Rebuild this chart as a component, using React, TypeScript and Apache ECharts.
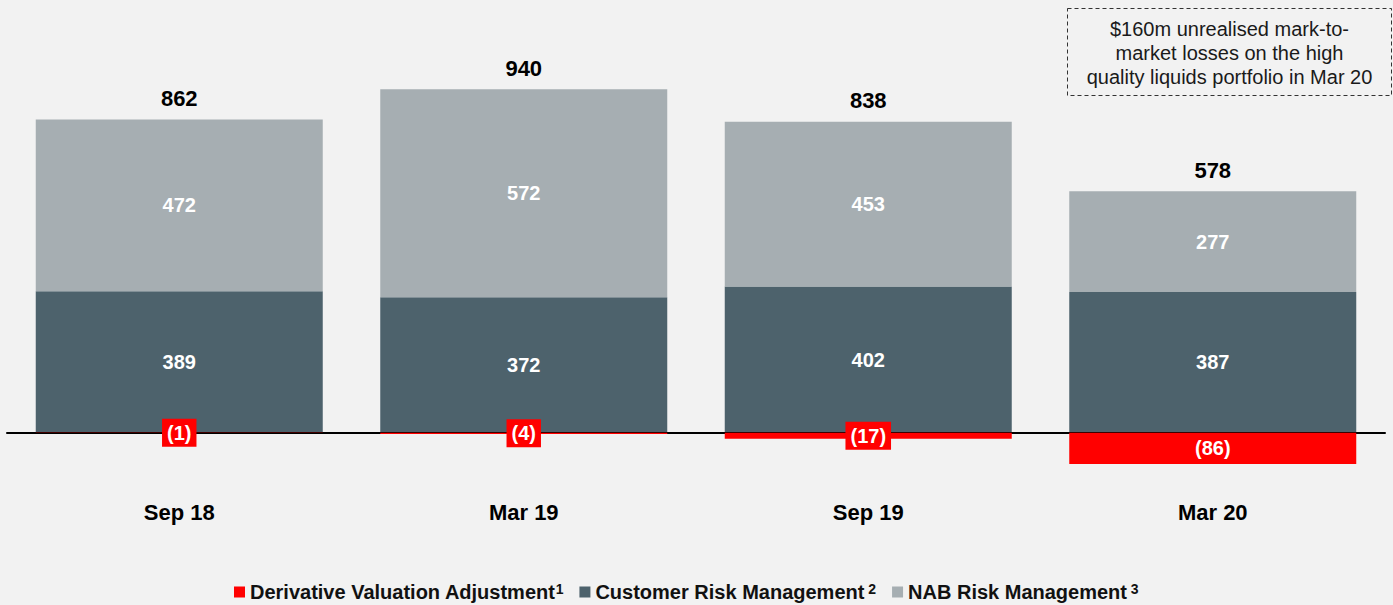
import React, { useEffect, useRef } from "react";
import * as echarts from "echarts";

const categories = ["Sep 18", "Mar 19", "Sep 19", "Mar 20"];
const derivativeValuation = [-1, -4, -17, -86];
const customerRisk = [389, 372, 402, 387];
const nabRisk = [472, 572, 453, 277];
const totals = [862, 940, 838, 578];
const seriesNames = [
  "Derivative Valuation Adjustment",
  "Customer Risk Management",
  "NAB Risk Management",
];
const superscripts = ["1", " 2", " 3"];
const noteLines = [
  "$160m unrealised mark-to-",
  "market losses on the high",
  "quality liquids portfolio in Mar 20",
];

const FONT = "'Liberation Sans', Arial, Helvetica, sans-serif";

export default function App() {
  const ref = useRef<HTMLDivElement>(null);
  useEffect(() => {
    document.body.style.margin = "0";
    document.body.style.background = "#f2f2f2";
    const chart = echarts.init(ref.current!, null, { renderer: "svg" });
    chart.setOption({
      animation: false,
      backgroundColor: "#f2f2f2",
      textStyle: { fontFamily: FONT },
      grid: { left: 7, right: 8, top: 69, height: 400, containLabel: false },
      xAxis: {
        type: "category",
        data: categories,
        z: 3,
        axisTick: { show: false },
        axisLine: { onZero: true, lineStyle: { color: "#000", width: 2 } },
        axisLabel: {
          margin: 32,
          fontSize: 22,
          fontWeight: "bold",
          color: "#000",
          fontFamily: FONT,
        },
      },
      yAxis: {
        type: "value",
        min: -100,
        max: 1000,
        show: false,
        splitLine: { show: false },
      },
      legend: {
        data: seriesNames,
        left: 229,
        top: 577,
        itemWidth: 11,
        itemHeight: 11,
        itemGap: 16,
        icon: "rect",
        formatter: (name: string) =>
          name + "{sup|" + superscripts[seriesNames.indexOf(name)] + "}",
        textStyle: {
          fontSize: 20,
          fontWeight: "bold",
          color: "#111",
          fontFamily: FONT,
          rich: {
            sup: {
              fontSize: 14,
              fontWeight: "bold",
              color: "#111",
              verticalAlign: "top",
              fontFamily: FONT,
            },
          },
        },
      },
      graphic: [
        {
          type: "group",
          left: 1067,
          top: 8,
          children: [
            {
              type: "rect",
              shape: { x: 0, y: 0, width: 324, height: 87 },
              style: {
                fill: "#f2f2f2",
                stroke: "#333",
                lineWidth: 1,
                lineDash: [4, 3],
              },
            },
            ...noteLines.map((t, i) => ({
              type: "text",
              x: 162,
              y: 20 + i * 24,
              style: {
                text: t,
                fill: "#1a1a1a",
                font: `20px ${FONT}`,
                textAlign: "center",
                textVerticalAlign: "middle",
              },
            })),
          ],
        },
      ],
      series: [
        {
          name: seriesNames[0],
          type: "bar",
          stack: "total",
          barWidth: 287,
          z: 5,
          data: derivativeValuation,
          itemStyle: { color: "#ff0000" },
          label: {
            show: true,
            position: "inside",
            formatter: (p: any) => `(${Math.abs(p.value)})`,
            backgroundColor: "#ff0000",
            padding: [5, 5, 3, 5],
            color: "#fff",
            fontSize: 20,
            fontWeight: "bold",
            fontFamily: FONT,
          },
        },
        {
          name: seriesNames[1],
          type: "bar",
          stack: "total",
          barWidth: 287,
          data: customerRisk,
          itemStyle: { color: "#4d626c" },
          label: {
            show: true,
            position: "inside",
            color: "#fff",
            fontSize: 20,
            fontWeight: "bold",
            fontFamily: FONT,
          },
        },
        {
          name: seriesNames[2],
          type: "bar",
          stack: "total",
          barWidth: 287,
          data: nabRisk,
          itemStyle: { color: "#a6aeb2" },
          label: {
            show: true,
            position: "inside",
            color: "#fff",
            fontSize: 20,
            fontWeight: "bold",
            fontFamily: FONT,
          },
        },
        {
          name: "Total",
          type: "bar",
          stack: "total",
          barWidth: 287,
          data: totals.map(() => 0),
          itemStyle: { color: "transparent" },
          tooltip: { show: false },
          label: {
            show: true,
            position: "top",
            distance: 10,
            formatter: (p: any) => String(totals[p.dataIndex]),
            color: "#000",
            fontSize: 22,
            fontWeight: "bold",
            fontFamily: FONT,
          },
        },
      ],
    });
    return () => chart.dispose();
  }, []);
  return <div ref={ref} style={{ width: 1393, height: 605 }} />;
}
